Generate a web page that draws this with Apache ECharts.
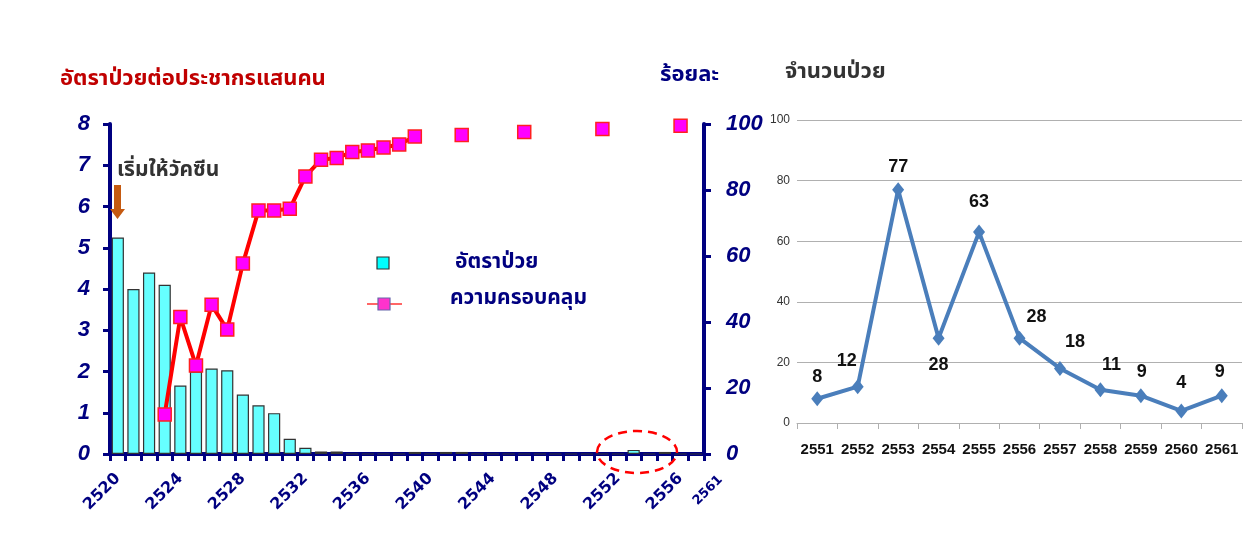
<!DOCTYPE html>
<html><head><meta charset="utf-8">
<script src="https://cdn.jsdelivr.net/npm/echarts@6/dist/echarts.min.js"></script>
<style>html,body{margin:0;padding:0;background:#fff}#c{width:1259px;height:533px}</style>
</head><body><div id="c"></div>
<script>
// ---- Left chart data: rate per 100,000 population and vaccine coverage (%) ----
const years = ['2520','2521','2522','2523','2524','2525','2526','2527','2528','2529',
  '2530','2531','2532','2533','2534','2535','2536','2537','2538','2539',
  '2540','2541','2542','2543','2544','2545','2546','2547','2548','2549',
  '2550','2551','2552','2553','2554','2555','2556','2557'];
const rate = [5.25, 4.0, 4.4, 4.1, 1.66, 2.0, 2.07, 2.03, 1.44, 1.18,
  0.99, 0.37, 0.15, 0.06, 0.06, 0, 0, 0, 0, 0.05,
  0, 0.05, 0.05, 0, 0, 0, 0, 0, 0, 0,
  0, 0, 0, 0.1, 0, 0.05, 0, 0];
const coverage = [null, null, null, 12, 41.5, 26.8, 45.2, 37.7, 57.7, 73.8,
  73.8, 74.3, 84.1, 89.2, 89.7, 91.5, 92.0, 92.9, 93.8, 96.2,
  null, null, 96.7, null, null, null, 97.6, null, null, null,
  null, 98.5, null, null, null, null, 99.5, null];
const extraTickLabel = '2561';
const leftTicks = [0, 1, 2, 3, 4, 5, 6, 7, 8];
const rightTicks = [0, 20, 40, 60, 80, 100];

// ---- Right chart data: number of cases ----
const caseYears = ['2551','2552','2553','2554','2555','2556','2557','2558','2559','2560','2561'];
const cases = [8, 12, 77, 28, 63, 28, 18, 11, 9, 4, 9];
// label offsets (style only)
const caseLabelOffsets = [[0,-22],[-11,-26],[0,-23],[0,27],[0,-30],[17,-21],[15,-26],[11,-25],[1,-24],[0,-28],[-2,-24]];

const NAVY = '#000080';
const THAI = "'Noto Sans Thai','Noto Sans Thai UI',Tahoma,'DejaVu Sans',sans-serif";
const NUM = "'Liberation Sans', Arial, sans-serif";
const NARROW = "'Liberation Sans Narrow','Liberation Sans',Arial,sans-serif";

const chart = echarts.init(document.getElementById('c'), null, {renderer: 'canvas'});

const caseData = cases.map((v, i) => ({
  value: v,
  label: {offset: caseLabelOffsets[i]}
}));

function thaiText(txt, x, y, color, size) {
  return {type: 'text', x: x, y: y, z: 10,
    style: {text: txt, fill: color, font: 'bold ' + size + 'px ' + THAI, align: 'left', verticalAlign: 'middle'}};
}

const option = {
  animation: false,
  backgroundColor: '#ffffff',
  grid: [
    {left: 110, top: 124, width: 594, height: 330, containLabel: false},
    {left: 797, top: 120, width: 445, height: 303, containLabel: false}
  ],
  xAxis: [
    {
      type: 'category', gridIndex: 0, data: years, boundaryGap: true,
      axisLine: {show: true, lineStyle: {color: NAVY, width: 4}},
      axisTick: {show: true, interval: 0, length: 7, lineStyle: {color: NAVY, width: 3}},
      axisLabel: {interval: 3, rotate: 45, margin: 22, color: NAVY, fontWeight: 'bold',
        fontSize: 16, fontFamily: "'DejaVu Sans', Verdana, sans-serif"}
    },
    {
      type: 'category', gridIndex: 1, data: caseYears, boundaryGap: true,
      axisLine: {show: true, lineStyle: {color: '#b0b0b0', width: 1}},
      axisTick: {show: true, interval: 0, length: 6, lineStyle: {color: '#b0b0b0'}},
      axisLabel: {interval: 0, margin: 19, color: '#111', fontWeight: 'bold', fontSize: 15,
        fontFamily: NARROW}
    }
  ],
  yAxis: [
    {
      type: 'value', gridIndex: 0, min: leftTicks[0], max: leftTicks[leftTicks.length-1], interval: 1,
      position: 'left',
      axisLine: {show: true, lineStyle: {color: NAVY, width: 4}},
      axisTick: {show: true, length: 7, lineStyle: {color: NAVY, width: 3}},
      splitLine: {show: false},
      axisLabel: {margin: 20, color: NAVY, fontWeight: 'bold', fontStyle: 'italic', fontSize: 22,
        fontFamily: NUM}
    },
    {
      type: 'value', gridIndex: 0, min: rightTicks[0], max: rightTicks[rightTicks.length-1], interval: 20,
      position: 'right',
      axisLine: {show: true, lineStyle: {color: NAVY, width: 4}},
      axisTick: {show: true, length: 7, lineStyle: {color: NAVY, width: 3}},
      splitLine: {show: false},
      axisLabel: {margin: 22, color: NAVY, fontWeight: 'bold', fontStyle: 'italic', fontSize: 22,
        fontFamily: NUM}
    },
    {
      type: 'value', gridIndex: 1, min: 0, max: 100, interval: 20,
      axisLine: {show: false}, axisTick: {show: false},
      splitLine: {show: true, lineStyle: {color: '#b0b0b0', width: 1}},
      axisLabel: {margin: 7, color: '#333', fontSize: 12, fontFamily: NARROW}
    }
  ],
  series: [
    {
      name: 'อัตราป่วย', type: 'bar', xAxisIndex: 0, yAxisIndex: 0, data: rate,
      barCategoryGap: '22%',
      itemStyle: {color: '#66ffff', borderColor: '#333333', borderWidth: 1.2},
      z: 2
    },
    {
      name: 'ความครอบคลุม', type: 'line', xAxisIndex: 0, yAxisIndex: 1, data: coverage,
      connectNulls: false, showSymbol: true, showAllSymbol: true,
      symbol: 'rect', symbolSize: 13,
      lineStyle: {color: '#ff0000', width: 4},
      itemStyle: {color: '#ff00ff', borderColor: '#ff2020', borderWidth: 1.5},
      z: 5
    },
    {
      name: 'จำนวนป่วย', type: 'line', xAxisIndex: 1, yAxisIndex: 2, data: caseData,
      symbol: 'diamond', symbolSize: [12, 15], showAllSymbol: true,
      lineStyle: {color: '#4a7ebb', width: 4},
      itemStyle: {color: '#4a7ebb'},
      label: {show: true, position: 'inside', color: '#111', fontSize: 18, fontWeight: 'bold',
        fontFamily: NARROW},
      z: 5
    }
  ],
  graphic: [
    thaiText('อัตราป่วยต่อประชากรแสนคน', 60, 81, '#c00000', 22),
    thaiText('ร้อยละ', 660, 77, NAVY, 22),
    thaiText('เริ่มให้วัคซีน', 117, 172, '#333333', 21),
    thaiText('จำนวนป่วย', 785, 74, '#333333', 22),
    {type: 'polygon', shape: {points: [[114,185],[121,185],[121,209],[125,209],[117.5,219],[110,209],[114,209]]},
      style: {fill: '#c55a11'}, z: 10},
    {type: 'ellipse', shape: {cx: 637, cy: 452, rx: 40, ry: 21},
      style: {fill: null, stroke: '#ff0000', lineWidth: 2.5, lineDash: [9, 6]}, z: 20},
    // legend
    {type: 'rect', shape: {x: 377, y: 257, width: 12, height: 12}, style: {fill: '#00ffff', stroke: '#333', lineWidth: 1.2}, z: 10},
    thaiText('อัตราป่วย', 455, 264, NAVY, 21),
    {type: 'line', shape: {x1: 367, y1: 304, x2: 402, y2: 304}, style: {stroke: '#ff6666', lineWidth: 2}, z: 10},
    {type: 'rect', shape: {x: 378, y: 298, width: 12, height: 12}, style: {fill: '#ff33cc', stroke: '#6666aa', lineWidth: 1.2}, z: 11},
    thaiText('ความครอบคลุม', 450, 300, NAVY, 21),
    // extra last tick label
    {type: 'text', x: 716, y: 473, rotation: Math.PI / 4,
      style: {text: extraTickLabel, fill: NAVY, font: "bold 13px 'DejaVu Sans', Verdana, sans-serif",
        align: 'right', verticalAlign: 'top'}, z: 10}
  ]
};
chart.setOption(option);
</script>
</body></html>
